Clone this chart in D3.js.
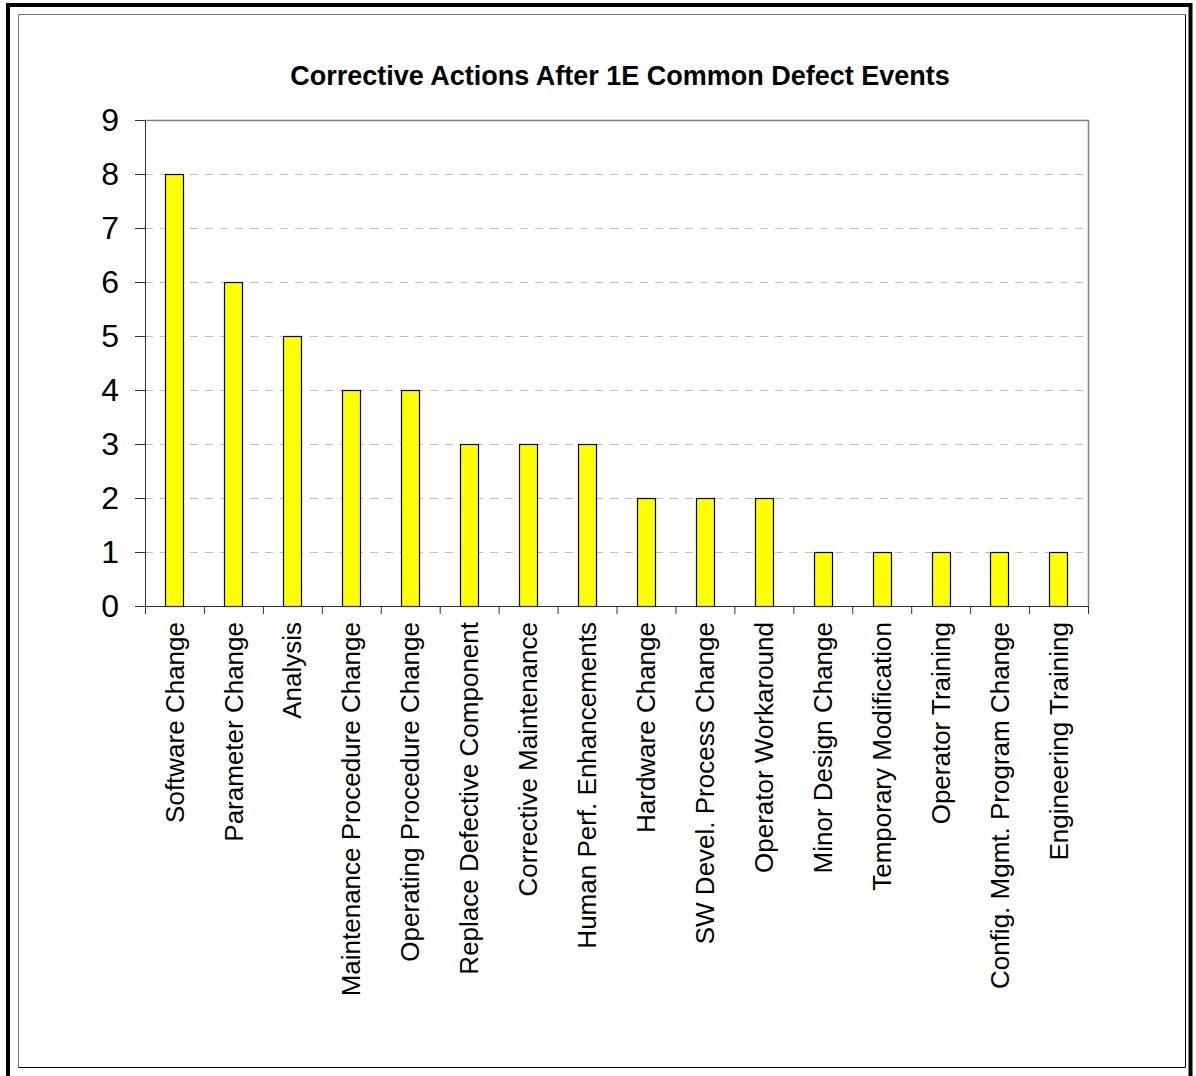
<!DOCTYPE html>
<html>
<head>
<meta charset="utf-8">
<script src="https://cdn.jsdelivr.net/npm/d3@7"></script>
<style>
  body { margin: 0; background: #fff; }
  svg { display: block; font-family: Arial, "Liberation Sans", sans-serif; }
</style>
</head>
<body>
<script>
const categories = [
  'Software Change', 'Parameter Change', 'Analysis', 'Maintenance Procedure Change',
  'Operating Procedure Change', 'Replace Defective Component', 'Corrective Maintenance',
  'Human Perf. Enhancements', 'Hardware Change', 'SW Devel. Process Change',
  'Operator Workaround', 'Minor Design Change', 'Temporary Modification',
  'Operator Training', 'Config. Mgmt. Program Change', 'Engineering Training'
];
const counts = [8, 6, 5, 4, 4, 3, 3, 3, 2, 2, 2, 1, 1, 1, 1, 1];
const yTicks = [0, 1, 2, 3, 4, 5, 6, 7, 8, 9];
const title = 'Corrective Actions After 1E Common Defect Events';

const width = 1196, height = 1076;
const margin = {top: 120, right: 108, bottom: 470, left: 145};
const plotW = width - margin.left - margin.right;
const plotH = height - margin.top - margin.bottom;

const svg = d3.select('body').append('svg')
  .attr('width', width)
  .attr('height', height);

// frames
svg.append('rect')
  .attr('x', 8).attr('y', 5).attr('width', 1182.5).attr('height', 1100)
  .attr('fill', 'none').attr('stroke', '#000').attr('stroke-width', 4);
svg.append('path')
  .attr('d', 'M18.5,1067.5 V14.5 H1185.5')
  .attr('fill', 'none').attr('stroke', '#707070');
svg.append('path')
  .attr('d', 'M18.5,1067.5 H1185.5 V14.5')
  .attr('fill', 'none').attr('stroke', '#000');

svg.append('text')
  .attr('x', 620).attr('y', 85)
  .attr('text-anchor', 'middle')
  .style('font-size', '27px').style('font-weight', 'bold')
  .text(title);

const g = svg.append('g')
  .attr('transform', 'translate(' + margin.left + ',' + margin.top + ')');

const x = d3.scaleBand()
  .domain(categories)
  .range([0, plotW])
  .padding(0);

const xTick = d3.scaleLinear()
  .domain([0, categories.length])
  .range([0, plotW]);

const y = d3.scaleLinear()
  .domain([0, 9])
  .range([plotH, 0]);

// dashed gridlines
g.append('g')
  .selectAll('line')
  .data(yTicks.filter((d) => d > 0 && d < 9))
  .enter().append('line')
  .attr('x1', 0).attr('x2', plotW)
  .attr('y1', (d) => Math.round(y(d)) + 0.5)
  .attr('y2', (d) => Math.round(y(d)) + 0.5)
  .attr('stroke', '#c0c0c0')
  .attr('stroke-dasharray', '8,7');

// plot top and right border
g.append('path')
  .attr('d', 'M0,0.5 H' + (plotW + 0.5) + ' V' + plotH)
  .attr('fill', 'none')
  .attr('stroke', '#808080')
  .attr('stroke-width', 1.5);

// bars
const barW = x.bandwidth() * 0.31;
g.append('g')
  .selectAll('rect')
  .data(counts)
  .enter().append('rect')
  .attr('x', (d, i) => Math.round(x(categories[i]) + (x.bandwidth() - barW) / 2) + 0.5)
  .attr('y', (d) => Math.round(y(d)) + 0.5)
  .attr('width', Math.round(barW))
  .attr('height', (d) => Math.round(y(0)) - Math.round(y(d)))
  .attr('fill', '#ffff00')
  .attr('stroke', '#000')
  .attr('stroke-width', 1.2);

// y axis
const yAxis = g.append('g')
  .call(d3.axisLeft(y).tickValues(yTicks).tickSize(10).tickPadding(16).tickFormat(d3.format('d')));
yAxis.attr('font-family', null).attr('font-size', null);
yAxis.select('.domain').attr('stroke', '#303030');
yAxis.selectAll('.tick line').attr('stroke', '#303030');
yAxis.selectAll('text')
  .style('font-size', '32px')
  .attr('fill', '#000');

// x axis
const xAxis = g.append('g')
  .attr('transform', 'translate(0,' + plotH + ')')
  .call(d3.axisBottom(xTick).tickValues(d3.range(categories.length + 1)).tickSize(8).tickFormat(''));
xAxis.select('.domain').attr('stroke', '#303030');
xAxis.selectAll('.tick line').attr('stroke', '#303030');

// category labels
g.append('g')
  .selectAll('text')
  .data(categories)
  .enter().append('text')
  .attr('transform', (d) => 'translate(' + (x(d) + x.bandwidth() / 2) + ',' + (plotH + 16) + ') rotate(-90)')
  .attr('text-anchor', 'end')
  .attr('dy', '0.35em')
  .style('font-size', '26px')
  .text((d) => d);
</script>
</body>
</html>
